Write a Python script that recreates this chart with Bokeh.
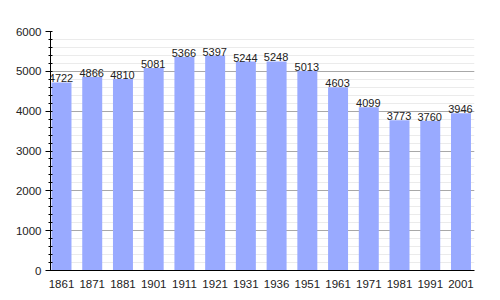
from bokeh.plotting import figure
from bokeh.models import ColumnDataSource, Range1d, FixedTicker, LabelSet
from bokeh.core.properties import value
from bokeh.embed import file_html
from bokeh.resources import INLINE

years = ["1861", "1871", "1881", "1901", "1911", "1921", "1931", "1936",
         "1951", "1961", "1971", "1981", "1991", "2001"]
population = [4722, 4866, 4810, 5081, 5366, 5397, 5244, 5248,
              5013, 4603, 4099, 3773, 3760, 3946]
y_ticks = [0, 1000, 2000, 3000, 4000, 5000, 6000]

xs = list(range(len(years)))
src = ColumnDataSource(dict(x=xs, y=population, lab=[str(v) for v in population]))

p = figure(width=500, height=300, output_backend="svg", toolbar_location=None,
           x_range=Range1d(-0.358, len(years) - 1 + 0.44), y_range=Range1d(0, 6000),
           min_border_left=50, min_border_right=26, min_border_top=31, min_border_bottom=30)
p.outline_line_color = None
p.background_fill_color = "white"
p.border_fill_color = "white"

p.vbar(x="x", top="y", width=0.65, source=src, fill_color="#99aaff", line_color=None)

labels = LabelSet(x="x", y="y", text="lab", source=src, text_align="center",
                  text_baseline="bottom", y_offset=0, x_offset=-0.5,
                  text_font_size=value("11px"),
                  text_font=value("Liberation Sans"), text_color=value("#222222"))
p.add_layout(labels)

p.xgrid.grid_line_color = None
p.ygrid.grid_line_color = "#a8a8a8"
p.ygrid.minor_grid_line_color = "#ebebeb"
p.ygrid.ticker = FixedTicker(ticks=y_ticks, minor_ticks=list(range(0, 6001, 200)))

p.yaxis.ticker = FixedTicker(ticks=y_ticks, minor_ticks=list(range(0, 6001, 200)))
p.yaxis.major_tick_out = 5
p.yaxis.major_tick_in = 0
p.yaxis.minor_tick_out = 2
p.yaxis.minor_tick_in = 2
p.yaxis.axis_line_color = "black"
p.yaxis.major_label_text_font = "Liberation Sans"
p.yaxis.major_label_text_font_size = "11.5px"
p.yaxis.major_label_text_color = "#222222"
p.yaxis.major_label_standoff = 4

p.xaxis.ticker = FixedTicker(ticks=xs)
p.xaxis.major_label_overrides = {i: y for i, y in enumerate(years)}
p.xaxis.major_tick_line_color = None
p.xaxis.minor_tick_line_color = None
p.xaxis.axis_line_color = "black"
p.xaxis.major_label_text_font = "Liberation Sans"
p.xaxis.major_label_text_font_size = "11.5px"
p.xaxis.major_label_text_color = "#222222"
p.xaxis.major_label_standoff = 3

open("out.html", "w").write(file_html(p, INLINE))
